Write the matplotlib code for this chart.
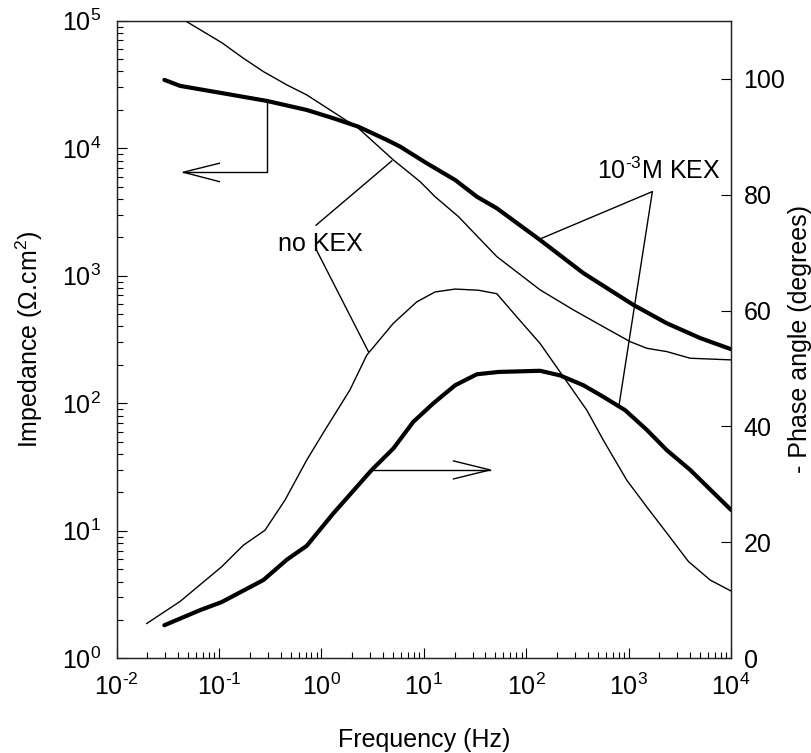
import numpy as np
import matplotlib
matplotlib.use("Agg")
import matplotlib.pyplot as plt
from matplotlib.ticker import LogLocator, FixedLocator, NullFormatter, NullLocator

plt.rcParams['font.family'] = ['Liberation Sans', 'DejaVu Sans']
plt.rcParams['mathtext.fontset'] = 'custom'
plt.rcParams['mathtext.rm'] = 'Liberation Sans'
plt.rcParams['mathtext.it'] = 'Liberation Sans:italic'
plt.rcParams['mathtext.bf'] = 'Liberation Sans:bold'
FS = 18
plt.rcParams['font.size'] = FS

# ---- data (log10 frequency, values) ----
# Impedance, no KEX (thin)
imp_nokex_logf = [-1.331, -0.973, -0.762, -0.566, -0.338, -0.143, 0.361, 0.703, 0.964,
                  1.110, 1.338, 1.713, 2.136, 2.461, 2.722, 3.015, 3.178, 3.373, 3.601, 4.0]
imp_nokex_logz = [5.0, 4.828, 4.706, 4.601, 4.497, 4.418, 4.157, 3.908, 3.738,
                  3.620, 3.464, 3.150, 2.889, 2.732, 2.614, 2.483, 2.431, 2.405, 2.353, 2.340]
# Impedance, 1e-3 M KEX (thick)
imp_kex_logf = [-1.533, -1.380, -1.055, -0.533, -0.143, 0.117, 0.361, 0.639, 0.768,
                1.029, 1.306, 1.518, 1.713, 2.136, 2.559, 3.047, 3.373, 3.702, 4.0]
imp_kex_logz = [4.536, 4.489, 4.444, 4.371, 4.300, 4.235, 4.169, 4.065, 4.013,
                3.882, 3.751, 3.620, 3.529, 3.280, 3.020, 2.771, 2.627, 2.510, 2.424]
# Phase, no KEX (thin)
ph_nokex_logf = [-1.705, -1.380, -0.973, -0.762, -0.550, -0.355, -0.143, 0.036, 0.279,
                 0.443, 0.703, 0.932, 1.110, 1.306, 1.533, 1.713, 1.908, 2.136, 2.592,
                 2.754, 2.983, 3.178, 3.373, 3.584, 3.796, 4.0]
ph_nokex = [6.0, 9.8, 15.8, 19.5, 22.1, 27.3, 34.2, 39.4, 46.3,
            52.3, 57.8, 61.5, 63.2, 63.7, 63.5, 62.9, 58.9, 54.3, 42.8,
            37.6, 30.7, 26.1, 21.6, 16.7, 13.5, 11.6]
# Phase, 1e-3 M KEX (thick)
ph_kex_logf = [-1.533, -1.185, -0.973, -0.566, -0.338, -0.143, 0.117, 0.492, 0.703,
               0.898, 1.094, 1.306, 1.518, 1.729, 2.136, 2.331, 2.559, 2.754, 2.966,
               3.178, 3.373, 3.601, 4.0]
ph_kex = [5.7, 8.3, 9.7, 13.5, 17.0, 19.4, 25.0, 32.5, 36.2,
          40.8, 44.0, 47.1, 49.0, 49.4, 49.6, 48.8, 47.1, 45.1, 42.8,
          39.4, 35.9, 32.5, 25.6]

HY = '\u2010'  # short hyphen for superscript exponents
x_ticks = [1e-2, 1e-1, 1e0, 1e1, 1e2, 1e3, 1e4]
x_ticklabels = ['10$^{' + HY + '2}$', '10$^{' + HY + '1}$', '10$^{0}$', '10$^{1}$',
                '10$^{2}$', '10$^{3}$', '10$^{4}$']
y_ticks = [1e0, 1e1, 1e2, 1e3, 1e4, 1e5]
y_ticklabels = ['10$^{0}$', '10$^{1}$', '10$^{2}$', '10$^{3}$', '10$^{4}$', '10$^{5}$']
ph_ticks = [0, 20, 40, 60, 80, 100]

fig = plt.figure(figsize=(8.11, 7.53), dpi=100)
ax = fig.add_axes([0.1437, 0.1258, 0.9014 - 0.1437, 0.9725 - 0.1258])
ax2 = ax.twinx()

thin = 1.0
thick = 3.0
ax.plot(10 ** np.array(imp_nokex_logf), 10 ** np.array(imp_nokex_logz), color='black', lw=thin)
ax.plot(10 ** np.array(imp_kex_logf), 10 ** np.array(imp_kex_logz), color='black', lw=thick,
        solid_capstyle='round', solid_joinstyle='round')
ax2.plot(10 ** np.array(ph_nokex_logf), ph_nokex, color='black', lw=thin)
ax2.plot(10 ** np.array(ph_kex_logf), ph_kex, color='black', lw=thick,
         solid_capstyle='round', solid_joinstyle='round')

ax.set_xscale('log')
ax.set_yscale('log')
ax.set_xlim(1e-2, 1e4)
ax.set_ylim(1e0, 1e5)
ax2.set_ylim(0, 110)

ax.xaxis.set_major_locator(FixedLocator(x_ticks))
ax.set_xticklabels(x_ticklabels)
ax.xaxis.set_minor_locator(LogLocator(base=10, subs=np.arange(2, 10), numticks=20))
ax.xaxis.set_minor_formatter(NullFormatter())
ax.yaxis.set_major_locator(FixedLocator(y_ticks))
ax.set_yticklabels(y_ticklabels)
ax.yaxis.set_minor_locator(LogLocator(base=10, subs=np.arange(2, 10), numticks=20))
ax.yaxis.set_minor_formatter(NullFormatter())
ax2.yaxis.set_major_locator(FixedLocator(ph_ticks))
ax2.yaxis.set_minor_locator(NullLocator())

ax.tick_params(axis='both', which='major', direction='in', length=7, width=0.8, pad=9,
               top=False, right=False, labelsize=FS)
ax.tick_params(axis='both', which='minor', direction='in', length=4, width=0.8,
               top=False, right=False)
ax.tick_params(axis='x', which='major', pad=11)
ax.tick_params(axis='y', which='major', pad=11)
ax2.tick_params(axis='y', which='major', direction='in', length=7, width=0.8, pad=9, labelsize=FS)

for a in (ax, ax2):
    for s in a.spines.values():
        s.set_linewidth(0.9)
        s.set_color('#222222')

ax.set_xlabel('Frequency (Hz)', fontsize=FS, labelpad=20)
ax.set_ylabel('Impedance ($\\Omega$.cm$^2$)', fontsize=FS, labelpad=12)
ax2.set_ylabel('- Phase angle (degrees)', fontsize=FS, labelpad=2)

# ---- annotations (in impedance-axis data coordinates) ----
lw_a = 1.0
# "no KEX" label and leaders
ax.text(0.97, 1780, 'no KEX', ha='center', va='center', fontsize=FS)
ax.plot([0.887, 4.87], [2490, 7950], color='black', lw=lw_a)
ax.plot([0.887, 2.88], [1615, 254], color='black', lw=lw_a)
# left arrow (points to impedance axis)
ax.plot([0.297, 0.297, 0.0449], [22540, 6480, 6480], color='black', lw=lw_a)
ax.plot([0.101, 0.0449, 0.101], [7625, 6480, 5470], color='black', lw=lw_a)
# right arrow (points to phase axis)
ax.plot([3.10, 44.4], [30.0, 30.0], color='black', lw=lw_a)
ax.plot([19.5, 44.4, 19.5], [35.3, 30.0, 25.5], color='black', lw=lw_a)
# "10^-3 M KEX" label and leaders
ax.text(1960, 6600, '10$^{' + HY + '3}$M KEX', ha='center', va='center', fontsize=FS)
ax.plot([134.6, 1706, 807], [1933, 4570, 97], color='black', lw=lw_a)

fig.savefig('out.png', dpi=100)
